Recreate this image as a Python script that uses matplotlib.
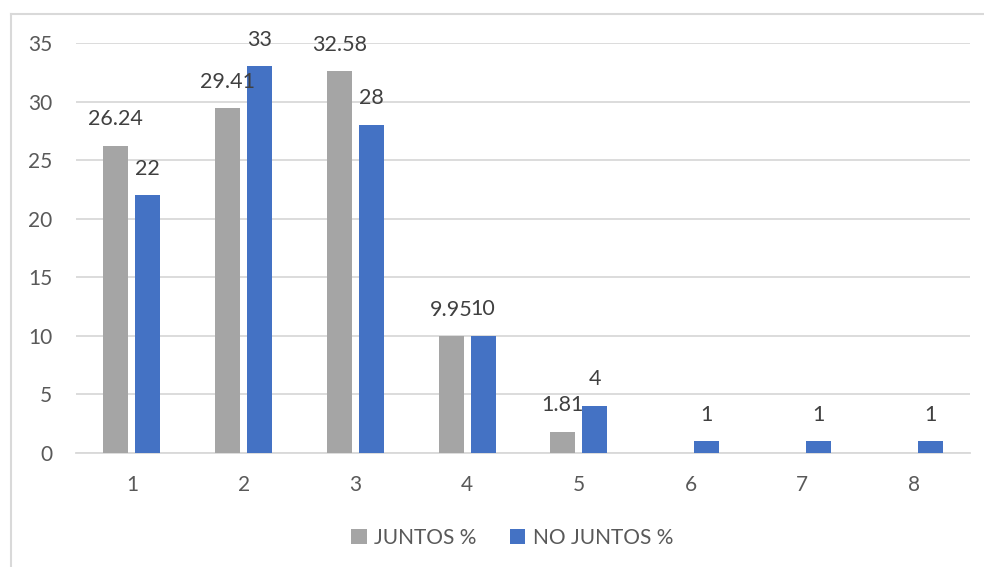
import matplotlib.pyplot as plt
import numpy as np
from matplotlib.lines import Line2D

categories = ['1', '2', '3', '4', '5', '6', '7', '8']
juntos = [26.24, 29.41, 32.58, 9.95, 1.81, 0, 0, 0]
no_juntos = [22, 33, 28, 10, 4, 1, 1, 1]

W, H = 984, 567
plt.rcParams['font.family'] = ['Lato', 'DejaVu Sans']
text_color = '#595959'

fig = plt.figure(figsize=(W / 100, H / 100), dpi=100)
ax = fig.add_axes([76 / W, 1 - 453 / H, (970 - 76) / W, (453 - 43) / H])

x = np.arange(len(categories))
bw = 0.225
off = 0.143
b1 = ax.bar(x - off, juntos, bw, color='#A5A5A5', label='JUNTOS %', zorder=3)
b2 = ax.bar(x + off, no_juntos, bw, color='#4472C4', label='NO JUNTOS %', zorder=3)

# data labels (no label for empty gray bars)
for rect, v in zip(b1, juntos):
    if v > 0:
        ax.annotate(f'{v:g}', (rect.get_x() + rect.get_width() / 2, v),
                    xytext=(0, 12), textcoords='offset points',
                    ha='center', va='bottom', fontsize=15.5, color='#404040')
for rect, v in zip(b2, no_juntos):
    ax.annotate(f'{v:g}', (rect.get_x() + rect.get_width() / 2, v),
                xytext=(0, 12), textcoords='offset points',
                ha='center', va='bottom', fontsize=15.5, color='#404040')

ax.set_xlim(-0.5, len(categories) - 0.5)
ax.set_ylim(0, 35)
ax.set_yticks(range(0, 36, 5))
ax.set_xticks(x)
ax.set_xticklabels(categories)
ax.tick_params(axis='both', length=0, labelsize=15, labelcolor=text_color)
ax.tick_params(axis='y', pad=17)
ax.tick_params(axis='x', pad=16)
ax.grid(axis='y', color='#D9D9D9', linewidth=1.3, zorder=0)
for s in ['top', 'right', 'left']:
    ax.spines[s].set_visible(False)
ax.spines['bottom'].set_color('#D9D9D9')
ax.spines['bottom'].set_linewidth(1.3)

leg = fig.legend(loc='center', bbox_to_anchor=(512 / W, 1 - 538 / H), ncol=2,
                 frameon=False, fontsize=15, handlelength=0.75, handleheight=0.75,
                 handletextpad=0.35, columnspacing=1.6)
for t in leg.get_texts():
    t.set_color(text_color)

# chart frame
fig.add_artist(Line2D([11 / W, 11 / W], [0, 1 - 14 / H], color='#D9D9D9', linewidth=1.5))
fig.add_artist(Line2D([11 / W, 1], [1 - 14 / H, 1 - 14 / H], color='#D9D9D9', linewidth=1.5))

fig.savefig('out.png', dpi=100)
